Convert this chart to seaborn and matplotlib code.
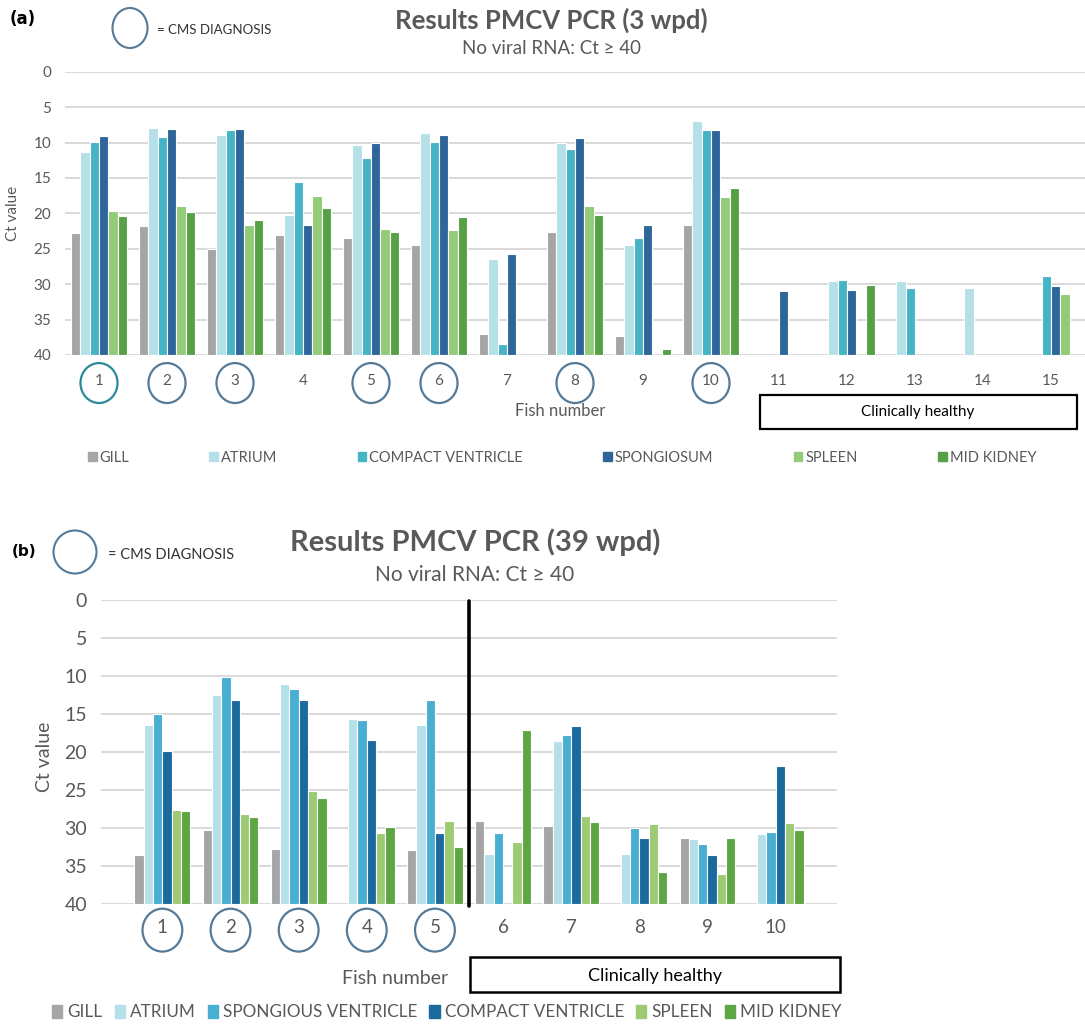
import numpy as np
import pandas as pd
import matplotlib
matplotlib.use("Agg")
import matplotlib.pyplot as plt
from matplotlib.patches import Ellipse, Rectangle, Patch
from matplotlib import font_manager
import seaborn as sns

nan = np.nan

# ---- Panel (a): 3 weeks post delivery ----
fish_a = [str(i) for i in range(1, 16)]
tissues_a = ["GILL", "ATRIUM", "COMPACT VENTRICLE", "SPONGIOSUM", "SPLEEN", "MID KIDNEY"]
gill_a = [22.8, 21.8, 25.0, 23.0, 23.5, 24.5, 37.0, 22.6, 37.3, 21.6, nan, nan, nan, nan, nan]
atrium_a = [11.3, 7.9, 8.9, 20.3, 10.4, 8.7, 26.4, 10.1, 24.4, 7.0, nan, 29.6, 29.6, 30.6, nan]
compact_a = [9.9, 9.2, 8.2, 15.6, 12.2, 9.9, 38.4, 10.9, 23.5, 8.2, nan, 29.4, 30.6, nan, 28.8]
spongiosum_a = [9.1, 8.1, 8.1, 21.6, 10.0, 9.0, 25.7, 9.3, 21.7, 8.2, 30.9, 30.8, nan, nan, 30.3]
spleen_a = [19.7, 18.9, 21.7, 17.5, 22.2, 22.4, nan, 18.9, nan, 17.7, nan, nan, nan, nan, 31.4]
kidney_a = [20.4, 19.8, 20.9, 19.2, 22.7, 20.5, nan, 20.2, 39.1, 16.4, nan, 30.1, nan, nan, nan]
cms_a = ["1", "2", "3", "5", "6", "8", "10"]
colors_a = ["#A5A5A5", "#B5E0E8", "#44B4C6", "#2E6699", "#93CB79", "#56A145"]

# ---- Panel (b): 39 weeks post delivery ----
fish_b = [str(i) for i in range(1, 11)]
tissues_b = ["GILL", "ATRIUM", "SPONGIOUS VENTRICLE", "COMPACT VENTRICLE", "SPLEEN", "MID KIDNEY"]
gill_b = [33.6, 30.2, 32.8, nan, 32.9, 29.1, 29.8, nan, 31.3, nan]
atrium_b = [16.5, 12.5, 11.0, 15.7, 16.5, 33.4, 18.6, 33.4, 31.5, 30.8]
spongious_b = [15.0, 10.1, 11.7, 15.8, 13.2, 30.7, 17.8, 30.0, 32.1, 30.5]
compact_b = [19.9, 13.2, 13.2, 18.4, 30.6, nan, 16.6, 31.3, 33.6, 21.9]
spleen_b = [27.6, 28.1, 25.1, 30.6, 29.1, 31.8, 28.4, 29.5, 36.1, 29.3]
kidney_b = [27.8, 28.5, 26.1, 29.9, 32.5, 17.1, 29.2, 35.8, 31.3, 30.2]
cms_b = ["1", "2", "3", "4", "5"]
colors_b = ["#A5A5A5", "#B5E0EA", "#48AED2", "#1A6A9E", "#9CCB74", "#5DA643"]

CT_MAX = 40
W, H = 1085, 1024
TXT = "#595959"


def pick_font(names):
    for n in names:
        try:
            font_manager.findfont(n, fallback_to_default=False)
            return n
        except Exception:
            continue
    return "DejaVu Sans"


sns.set_theme(style="white")
FONT = pick_font(["Liberation Sans Narrow", "Lato", "Open Sans"])
plt.rcParams["font.family"] = [FONT, "DejaVu Sans"]

fig = plt.figure(figsize=(W / 100, H / 100), dpi=100)


def fx(px):
    return px / W


def fy(py):
    return 1 - py / H


def long_frame(fish, tissues, series):
    rows = []
    for t, vals in zip(tissues, series):
        for f, v in zip(fish, vals):
            if not np.isnan(v):
                rows.append({"fish": f, "tissue": t, "ct": v})
    return pd.DataFrame(rows)


def draw_panel(rect_px, fish, tissues, series, colors, cms, ell_w, ell_h, ell_y,
               tick_fs, ytick_fs, xpad, first_color):
    x0, y_top, x1, y_bot = rect_px
    ax = fig.add_axes([fx(x0), fy(y_bot), fx(x1) - fx(x0), (y_bot - y_top) / H])
    df = long_frame(fish, tissues, series)
    sns.barplot(data=df, x="fish", y="ct", hue="tissue", order=fish, hue_order=tissues,
                palette=colors, width=0.82, saturation=1, errorbar=None,
                edgecolor="white", linewidth=0.8, legend=False, ax=ax)
    # bars grow upward from Ct = 40 (no viral RNA) on a reversed axis
    for p in ax.patches:
        h = p.get_height()
        p.set_y(CT_MAX)
        p.set_height(h - CT_MAX)
    ax.set_ylim(CT_MAX, 0)
    ax.set_yticks(range(0, 45, 5))
    ax.grid(axis="y", color="#D9D9D9", lw=1.4)
    ax.set_axisbelow(True)
    for s in ax.spines.values():
        s.set_visible(False)
    ax.set_xlabel("")
    ax.set_ylabel("")
    ax.tick_params(axis="x", length=0, pad=xpad, labelsize=tick_fs, labelcolor=TXT)
    ax.tick_params(axis="y", length=0, pad=10, labelsize=ytick_fs, labelcolor=TXT)
    tr = ax.get_xaxis_transform()
    for i, f in enumerate(fish):
        if f in cms:
            c = first_color if i == 0 else "#557A98"
            ax.add_patch(Ellipse((i, ell_y), ell_w, ell_h, transform=tr, fill=False,
                                 ec=c, lw=1.6, clip_on=False))
    return ax


# ---------------- Panel (a) ----------------
ax_a = draw_panel((65, 71.7, 1085, 355), fish_a, tissues_a,
                  [gill_a, atrium_a, compact_a, spongiosum_a, spleen_a, kidney_a],
                  colors_a, cms_a, 0.545, 0.141, -0.099, 11, 11, 14, "#2B8A9A")

fig.text(fx(10), fy(19), "(a)", fontsize=12, fontweight="bold", color="black",
         va="center", ha="left", family="DejaVu Sans")
fig.patches.append(Ellipse((fx(130), fy(28)), fx(35), 40 / H, transform=fig.transFigure,
                           fill=False, ec="#557A98", lw=1.5))
fig.text(fx(157), fy(30), "= CMS DIAGNOSIS", fontsize=9.5, color="#333333", va="center")
fig.text(fx(551), fy(20), "Results PMCV PCR (3 wpd)", fontsize=18.5, fontweight="bold",
         color=TXT, ha="center", va="center")
fig.text(fx(551), fy(48), "No viral RNA: Ct \u2265 40", fontsize=13.5, color=TXT,
         ha="center", va="center")
fig.text(fx(13), fy(213), "Ct value", fontsize=11, color=TXT, rotation=90,
         ha="center", va="center")
fig.text(fx(560), fy(411), "Fish number", fontsize=12, color=TXT, ha="center", va="center")
fig.patches.append(Rectangle((fx(760), fy(429)), fx(1077) - fx(760), 34 / H,
                             transform=fig.transFigure, fill=False, ec="black", lw=1.6))
fig.text(fx(918), fy(412), "Clinically healthy", fontsize=11, color="black",
         ha="center", va="center")
handles_a = [Patch(color=c, label=t) for c, t in zip(colors_a, tissues_a)]
fig.legend(handles=handles_a, loc="center", bbox_to_anchor=(fx(562), fy(458)), ncol=6,
           frameon=False, fontsize=10.5, labelcolor=TXT, handlelength=0.6,
           handleheight=0.6, handletextpad=0.2, columnspacing=5.5)

# ---------------- Panel (b) ----------------
ax_b = draw_panel((101, 600, 837, 904), fish_b, tissues_b,
                  [gill_b, atrium_b, spongious_b, compact_b, spleen_b, kidney_b],
                  colors_b, cms_b, 0.584, 0.141, -0.086, 13.5, 14, 11, "#557A98")
ax_b.plot([4.5, 4.5], [0.1, 40.2], color="black", lw=2.6, clip_on=False)

fig.text(fx(12), fy(552), "(b)", fontsize=11, fontweight="bold", color="black",
         va="center", ha="left", family="DejaVu Sans")
fig.patches.append(Ellipse((fx(75), fy(552)), fx(43), 43 / H, transform=fig.transFigure,
                           fill=False, ec="#557A98", lw=1.5))
fig.text(fx(108), fy(555), "= CMS DIAGNOSIS", fontsize=10.5, color="#333333", va="center")
fig.text(fx(475), fy(542), "Results PMCV PCR (39 wpd)", fontsize=21, fontweight="bold",
         color=TXT, ha="center", va="center")
fig.text(fx(475), fy(575), "No viral RNA: Ct \u2265 40", fontsize=15, color=TXT,
         ha="center", va="center")
fig.text(fx(45), fy(757), "Ct value", fontsize=14, color=TXT, rotation=90,
         ha="center", va="center")
fig.text(fx(395), fy(978), "Fish number", fontsize=14, color=TXT, ha="center", va="center")
fig.patches.append(Rectangle((fx(470), fy(992)), fx(840) - fx(470), 35 / H,
                             transform=fig.transFigure, fill=False, ec="black", lw=1.8))
fig.text(fx(655), fy(976), "Clinically healthy", fontsize=13, color="black",
         ha="center", va="center")
handles_b = [Patch(color=c, label=t) for c, t in zip(colors_b, tissues_b)]
fig.legend(handles=handles_b, loc="center", bbox_to_anchor=(fx(447), fy(1012)), ncol=6,
           frameon=False, fontsize=12.3, labelcolor=TXT, handlelength=0.6,
           handleheight=0.8, handletextpad=0.3, columnspacing=0.7)

fig.savefig("out.png", dpi=100, facecolor="white")
